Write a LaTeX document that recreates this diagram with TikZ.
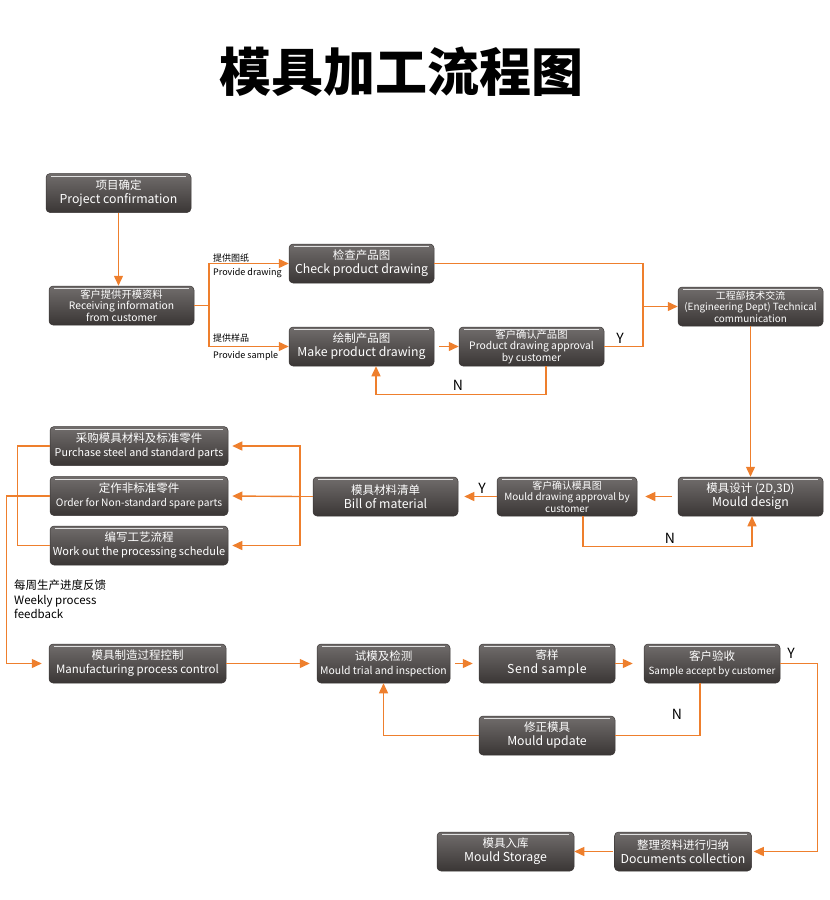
\documentclass[tikz,border=0pt]{standalone}
\usepackage{fontspec}
\setmainfont{Noto Sans CJK SC}
\newfontface\spreadfont{Noto Sans CJK SC}[LetterSpace=5]
\newcommand\zhline{\normalfont\fontsize{11.5}{14}\selectfont}
\usetikzlibrary{arrows.meta}
\definecolor{flow}{HTML}{EE7F2D}
\definecolor{boxtop}{HTML}{716D6C}
\definecolor{boxbot}{HTML}{3A3635}
\tikzset{
  box/.style={rounded corners=4pt, top color=boxtop, bottom color=boxbot,
    draw=boxbot, line width=0.5pt, text=white, align=center,
    minimum height=39pt, inner sep=0pt,
    font=\fontsize{11.5}{14}\selectfont,
    path picture={\draw[white!75!gray, line width=0.7pt]
      ([xshift=5pt,yshift=-2.5pt]path picture bounding box.north west) --
      ([xshift=-5pt,yshift=-2.5pt]path picture bounding box.north east);}},
  small/.style={font=\fontsize{10.3}{11.5}\selectfont},
  smaller/.style={font=\fontsize{9.9}{11.5}\selectfont},
  wide/.style={font=\fontsize{12.3}{14}\selectfont},
  link/.style={draw=flow, line width=1.4pt},
  go/.style={link, -{Triangle[length=10pt,width=9pt]}},
  tag/.style={font=\fontsize{9}{10}\selectfont, anchor=west, inner sep=0pt},
  yn/.style={font=\fontsize{14}{14}\selectfont, inner sep=0pt}
}
\begin{document}
\begin{tikzpicture}[x=1pt, y=-1pt]
\useasboundingbox (0,0) rectangle (830,900);
% Title
\node (title) at (401,72) {\fontsize{52}{56}\selectfont\bfseries 模具加工流程图};
% Nodes
\node[box, wide, minimum width=145pt] (proj) at (118.5,193) {{\zhline 项目确定}\\Project confirmation};
\node[box, small, minimum width=145pt] (recv) at (121.5,305.5) {客户提供开模资料\\Receiving information\\from customer};
\node[box, wide, minimum width=145pt] (check) at (361.5,263.5) {{\zhline 检查产品图}\\Check product drawing};
\node[box, wide, minimum width=145pt] (make) at (361.5,346.5) {{\zhline 绘制产品图}\\Make product drawing};
\node[box, small, minimum width=145pt] (prodok) at (531.5,346.5) {客户确认产品图\\Product drawing approval\\by customer};
\node[box, smaller, minimum width=145pt] (eng) at (750.5,306.5) {工程部技术交流\\(Engineering Dept) Technical\\communication};
\node[box, wide, minimum width=145pt] (design) at (750.5,496.5) {{\zhline 模具设计 (2D,3D)}\\Mould design};
\node[box, smaller, minimum width=140pt] (mouldok) at (567,496.5) {客户确认模具图\\Mould drawing approval by\\customer};
\node[box, wide, minimum width=145pt] (bom) at (385.5,496.5) {{\zhline 模具材料清单}\\Bill of material};
\node[box, minimum width=178pt, font=\fontsize{10.7}{14}\selectfont] (buy) at (139,446) {{\zhline 采购模具材料及标准零件}\\Purchase steel and standard parts};
\node[box, minimum width=178pt, font=\fontsize{10.2}{14}\selectfont] (order) at (139,496) {{\zhline 定作非标准零件}\\Order for Non-standard spare parts};
\node[box, minimum width=178pt, font=\fontsize{11}{14}\selectfont] (sched) at (139,545.5) {{\zhline 编写工艺流程}\\Work out the processing schedule};
\node[box, minimum width=177pt] (ctrl) at (137.5,663.5) {{\zhline 模具制造过程控制}\\Manufacturing process control};
\node[box, minimum width=133pt, font=\fontsize{10.4}{14}\selectfont] (trial) at (383.5,663.5) {{\zhline 试模及检测}\\Mould trial and inspection};
\node[box, minimum width=136pt, font=\fontsize{12.3}{14}\spreadfont] (send) at (547,663.5) {{\zhline 寄样}\\Send sample};
\node[box, minimum width=136pt, font=\fontsize{9.9}{14}\selectfont] (accept) at (712,663.5) {{\zhline 客户验收}\\Sample accept by customer};
\node[box, wide, minimum width=136pt] (update) at (547,735.5) {{\zhline 修正模具}\\Mould update};
\node[box, wide, minimum width=137pt] (store) at (505.5,851.5) {{\zhline 模具入库}\\Mould Storage};
\node[box, wide, minimum width=137pt] (docs) at (683,851.5) {{\zhline 整理资料进行归纳}\\Documents collection};
% Coordinates
\coordinate (split) at (209,305.5);
\coordinate (join) at (643,306.5);
\coordinate (fan) at (300,496.5);
% Lines
\draw[go] (proj.south) -- (proj.south |- recv.north);
\draw[link] (recv.east) -- (split);
\draw[go] (split) |- (check.west);
\draw[go] (split) |- (make.west);
\draw[link] (check.east) -| (join);
\draw[link] (prodok.east) -| (join);
\draw[go] (join) -- (eng.west);
\draw[go, shorten <=5pt] (make.east) -- (prodok.west);
\draw[go] (prodok.south -| 546,0) -- ++(0,28) -| (make.south -| 376,0);
\draw[go] (eng.south) -- (design.north);
\draw[go, shorten <=6pt, shorten >=8pt] (design.west) -- (mouldok.east);
\draw[go] (mouldok.south -| 583,0) -- ++(0,30) -| (design.south -| 752,0);
\draw[go, shorten >=6pt] (mouldok.west) -- (bom.east);
\draw[link] (bom.west) -- (fan);
\draw[go, shorten >=4pt] (fan) |- (buy.east);
\draw[go, shorten >=4pt] (fan) -- (order.east);
\draw[go, shorten >=4pt] (fan) |- (sched.east);
\draw[link] (buy.west) -- ++(-32,0) |- (sched.west);
\draw[go, shorten >=7pt] (order.west) -- ++(-43,0) |- (ctrl.west);
\draw[go, shorten >=7pt] (ctrl.east) -- (trial.west);
\draw[go, shorten <=5pt, shorten >=6pt] (trial.east) -- (send.west);
\draw[go, shorten >=11pt] (send.east) -- (accept.west);
\draw[link] (accept.south -| 700,0) |- (update.east);
\draw[go] (update.west) -| (trial.south);
\draw[go, shorten >=2pt] (accept.east) -- ++(37,0) |- (docs.east);
\draw[go, shorten <=1pt] (docs.west) -- (store.east);
% Labels
\node[tag] (t1) at (213,258) {提供图纸};
\node[tag] (t2) at (213,273.5) {Provide drawing};
\node[tag] (t3) at (213,338) {提供样品};
\node[tag] (t4) at (213,356) {Provide sample};
\node[yn] (y1) at (620,338) {Y};
\node[yn] (n1) at (458,385) {N};
\node[yn] (y2) at (482,488) {Y};
\node[yn] (n2) at (670,538) {N};
\node[yn] (n3) at (677,714) {N};
\node[yn] (y3) at (791,653) {Y};
\node[anchor=north west, align=left, inner sep=0pt, font=\fontsize{11.5}{14.5}\selectfont] (week) at (14,580) {每周生产进度反馈\\Weekly process\\feedback};
\end{tikzpicture}
\end{document}
